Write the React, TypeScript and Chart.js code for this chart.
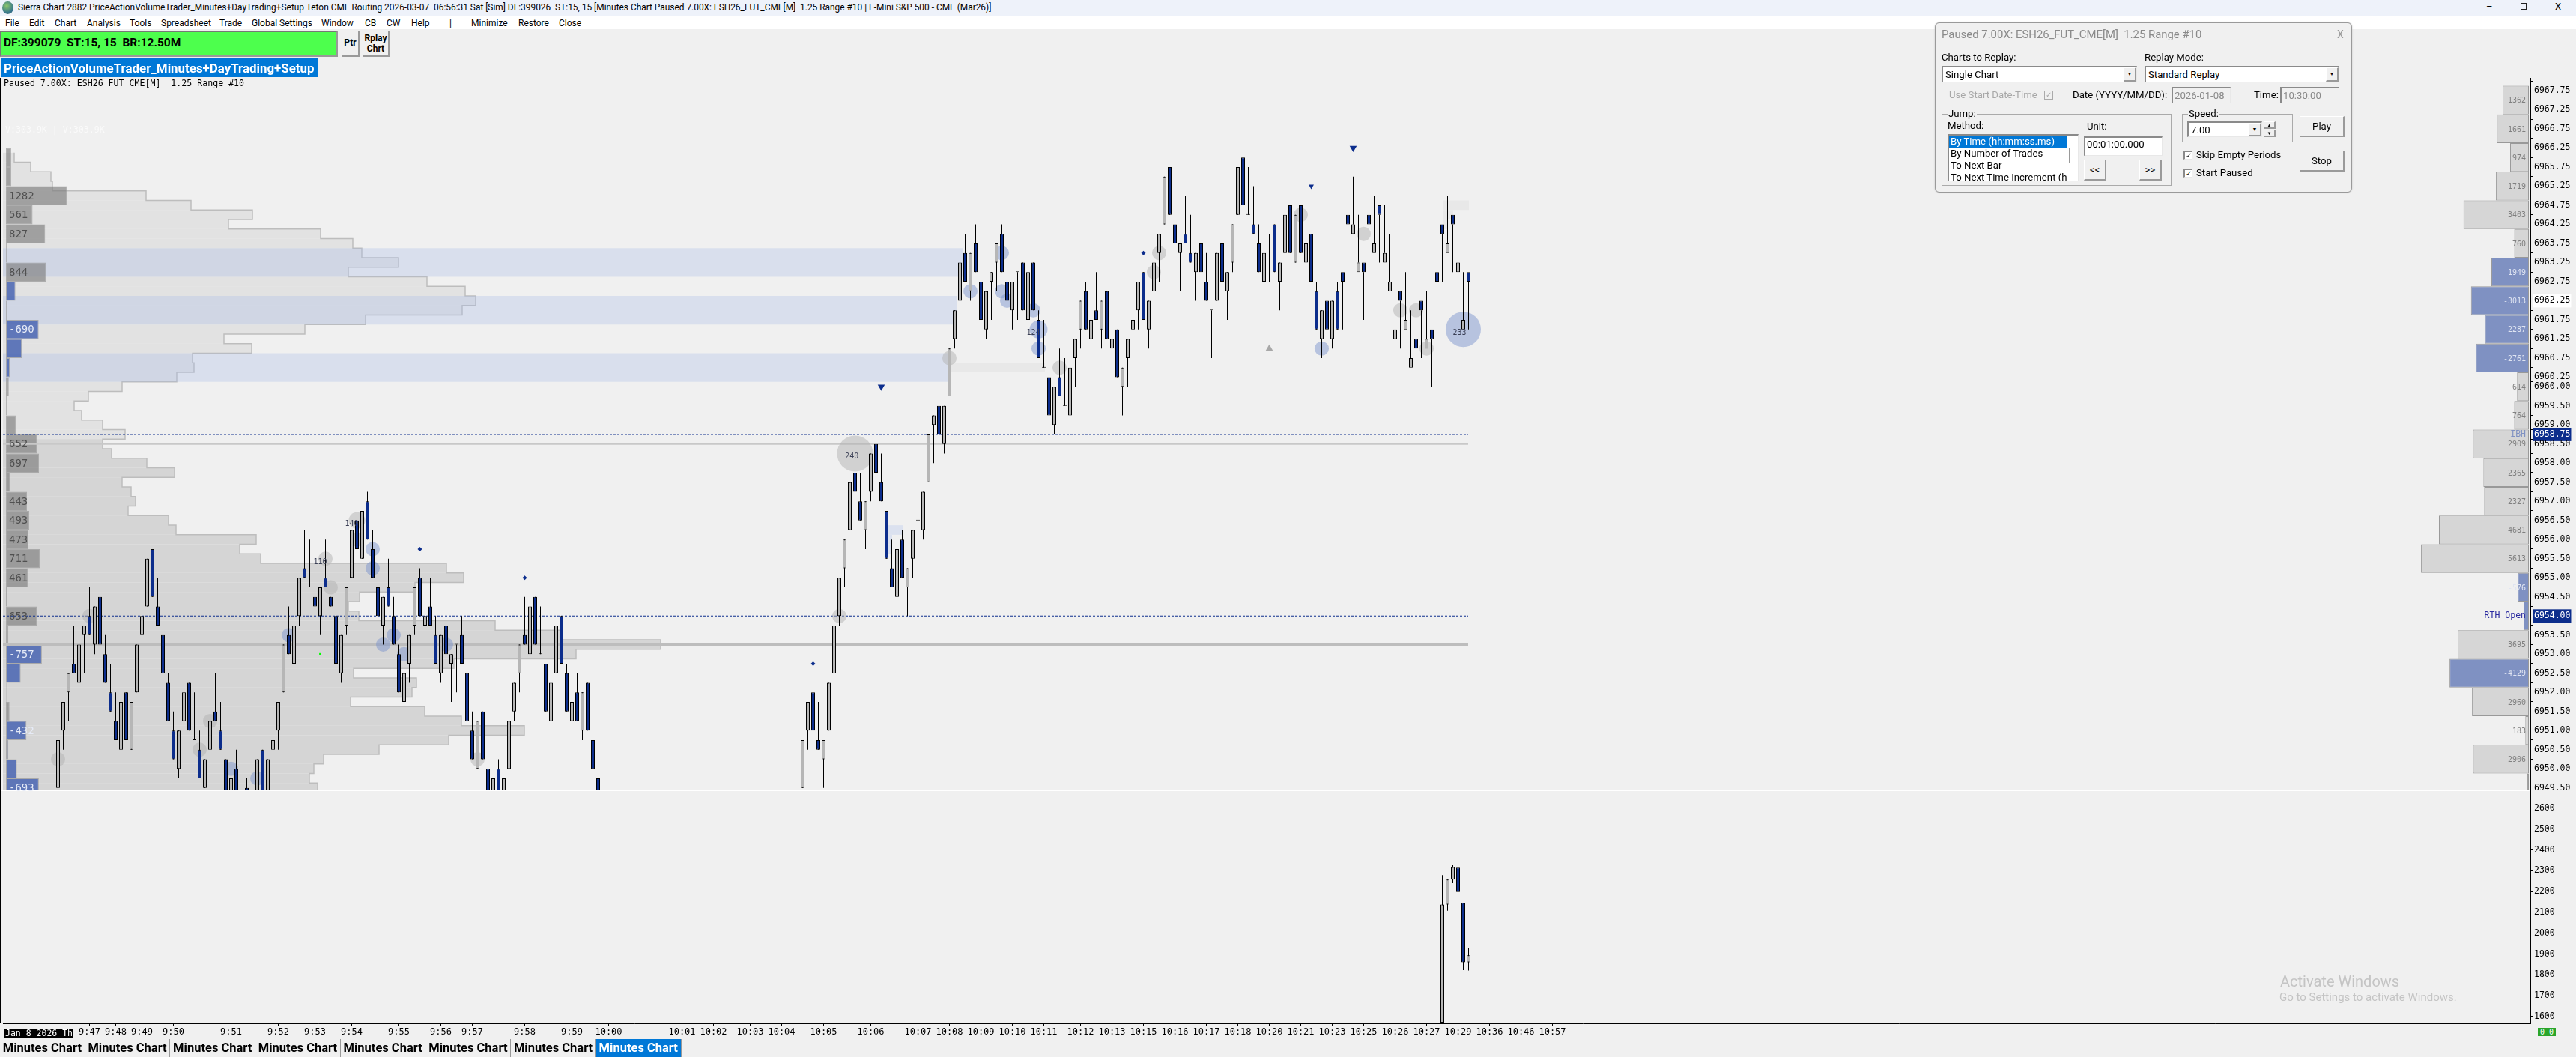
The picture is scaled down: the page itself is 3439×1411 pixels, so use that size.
import { useEffect, useRef } from 'react';
import type { CSSProperties, ReactNode } from 'react';
import { Chart, registerables } from 'chart.js';

Chart.register(...registerables);

// Candles, two runs of visible bars (the session between them is below the price pane)
const firstRunStart = 10;
const firstRunLength = 104;
const secondRunStart = 152;

const opens = [
  6949.5, 6951, 6952, 6952.75, 6952.25, 6953.5, 6954, 6953.25, 6954.5, 6953, 6952, 6951.25, 6950.5, 6952, 6950.5, 6952, 6953.5, 6954.25, 6955.75, 6954.25,
  6953.5, 6952.25, 6951, 6950, 6951.25, 6952.25, 6950.75, 6950.5, 6949.5, 6950.5, 6951.5, 6951, 6950.25, 6949, 6950, null, 6949.5, null, 6949, 6950.5,
  6949, 6950.5, 6951, 6952, 6953.5, 6952.75, 6954, 6955.25, 6954.75, 6954.5, 6954, 6955, 6954.5, 6954, 6952.5, 6953.75, 6955, 6956.5, 6955.5, 6957,
  6955.75, 6954.75, 6953.75, 6954.75, 6954, 6953, 6951.75, 6952.75, 6953.75, 6955, 6953.75, 6954.25, 6953.5, 6952.5, 6953.75, 6952.75, 6953.25, 6953.5, 6952.5, 6951,
  6950, 6951.5, 6950, 6949, 6950, 6949, 6950, 6951.5, 6952.5, 6953.5, 6953, 6954.5, 6953, 6952.75, 6951.25, 6952.5, 6954, 6952.5, 6951.25, 6952, 6951, 6952.25, 6950.75, 6949.75,
  6949.5, 6951, 6952, 6950.75, 6950.25, 6951, 6952.5, 6954, 6955.25, 6956.25, 6957.75, 6957, 6956.25, 6957.25, 6958.5, 6957.5, 6956.75, 6955.25, 6954.5, 6956,
  6954.75, 6955.5, 6956.5, 6956.25, 6957.5, 6959, 6959.5, 6958.5, 6959.75, 6961.25, 6962.25, 6963.5, 6962.5, 6963.75, 6962.75, 6961.5, 6962.75, 6963.25, 6964, 6962.75,
  6962, 6963, 6963.25, 6961.75, 6963.25, 6961.75, 6960.5, 6960.25, 6959, 6960.25, 6959.5, 6959.25, 6960.75, 6961.5, 6962.5, 6961.25, 6962, 6961.5, 6962.5, 6961,
  6961.5, 6960, 6960.75, 6961.5, 6962, 6963, 6961.5, 6962.5, 6963.5, 6964.25, 6965.75, 6964.25, 6963.5, 6964, 6963.5, 6963, 6963.75, 6962.75, 6962, 6962.25,
  6963.75, 6962.5, 6963.25, 6964.5, 6966, 6964.5, 6964.25, 6963.75, 6962.75, 6963.75, 6964.25, 6962.75, 6963.5, 6964.75, 6963.25, 6964.75, 6963.25, 6964, 6962.5, 6961.25,
  6962.25, 6961.25, 6962.5, 6963, 6964.5, 6964, 6963, 6963.25, 6964.5, 6963.5, 6964.75, 6963.25, 6962.5, 6961.25, 6962.5, 6961.5, 6960.5, 6961.25, 6962.25, 6961,
  6961.5, 6963, 6964.25, 6963.5, 6964.5, 6963, 6961.5, 6963,
];
const highs = [
  6950.75, 6951.75, 6952.5, 6953.75, 6953.25, 6953.75, 6954.75, 6954.25, 6954.5, 6953.5, 6952.75, 6952, 6951.75, 6952, 6951.75, 6953.25, 6954, 6955.5, 6955.75, 6955,
  6953.75, 6952.5, 6951.5, 6951, 6952, 6952.25, 6952, 6951, 6950.25, 6951.25, 6952.5, 6951.75, 6950.25, 6949.75, 6950.5, null, 6949.75, null, 6950.25, 6950.5,
  6950.25, 6950.75, 6951.75, 6953.25, 6954.25, 6953.75, 6955, 6956.25, 6956, 6955.5, 6954.75, 6956, 6954.5, 6954, 6953.5, 6954.75, 6956.25, 6957, 6956.75, 6957.25,
  6956.25, 6955.25, 6954.5, 6955.5, 6954.5, 6953.25, 6952.5, 6953.5, 6954.75, 6955.25, 6954, 6955, 6954, 6953.5, 6954.25, 6953, 6953.25, 6954, 6952.5, 6951.5,
  6951.25, 6951.5, 6950.5, 6949.75, 6950.25, 6949.75, 6951.25, 6952.25, 6953.25, 6954.5, 6954.25, 6954.5, 6954.25, 6952.75, 6952.25, 6953.75, 6954, 6952.75, 6951.75, 6952.5, 6952, 6952.25, 6951.25, 6949.75,
  6950.75, 6951.75, 6952.25, 6951.75, 6950.75, 6952.25, 6953.75, 6955, 6956, 6957.5, 6958.5, 6957.75, 6957, 6958.25, 6959, 6958.25, 6956.75, 6956, 6955.75, 6956.25,
  6955.25, 6956.25, 6957.75, 6957.25, 6958.75, 6959.25, 6960, 6959.5, 6961, 6962, 6963.25, 6964, 6963.5, 6964.25, 6963, 6962.5, 6963, 6963.75, 6964.25, 6963,
  6962.75, 6963, 6963.25, 6963, 6963.25, 6962, 6961.75, 6960.25, 6960, 6961, 6960.75, 6960.5, 6961.25, 6962.25, 6962.75, 6961.75, 6963, 6962.25, 6962.5, 6961.25,
  6961.5, 6960.5, 6961.25, 6961.75, 6962.75, 6963, 6962.25, 6963.25, 6964, 6965.5, 6965.75, 6965, 6963.75, 6965, 6964.5, 6963.5, 6964.25, 6963.5, 6962, 6963.5,
  6964, 6963, 6964.25, 6965.75, 6966, 6965.75, 6965.25, 6964.25, 6963.5, 6964, 6964.25, 6963.25, 6964.5, 6964.75, 6964.5, 6964.75, 6963.75, 6964, 6962.75, 6962,
  6962.75, 6962.25, 6962.75, 6962.75, 6964.25, 6965.5, 6964.5, 6963, 6964.25, 6965, 6964.5, 6964.75, 6964, 6962.75, 6962.25, 6963, 6962, 6961, 6962, 6962.5,
  6961.25, 6962.75, 6964, 6965, 6964.25, 6964.5, 6963, 6962.75, 6963,
];
const lows = [
  6949.5, 6950.5, 6951.25, 6952.5, 6952, 6952.5, 6953.5, 6953, 6953.25, 6952.25, 6951.5, 6950.75, 6950.5, 6950.75, 6950.5, 6952, 6952.75, 6954.25, 6954.5, 6953.75,
  6952.5, 6951.25, 6950.25, 6949.75, 6950.75, 6951, 6950.75, 6949.75, 6949.5, 6950, 6951.25, 6950.5, 6949, 6949, 6949, null, 6949, null, 6949, 6949,
  6949, 6949.5, 6950.5, 6952, 6953, 6952.5, 6953.75, 6955, 6954.75, 6954.25, 6953.5, 6954.75, 6954.25, 6952.75, 6952.25, 6953.5, 6955, 6955.75, 6955.5, 6956,
  6955, 6954, 6953.25, 6954.25, 6953.25, 6952, 6951.25, 6952.25, 6953.5, 6954, 6952.75, 6953.75, 6952.75, 6952.25, 6953, 6951.75, 6952, 6952.75, 6951.25, 6950.25,
  6950, 6950.25, 6949, 6949, 6949, 6949, 6950, 6951.25, 6952, 6953.25, 6953, 6953.25, 6953, 6951.5, 6951, 6952.5, 6952.75, 6951.5, 6950.5, 6951.25, 6950.75, 6951, 6950, 6949,
  6949.5, 6950.5, 6951, 6950.5, 6949.5, 6951, 6952.5, 6953.75, 6954.75, 6956.25, 6957.25, 6956.5, 6955.75, 6957, 6957.75, 6957, 6955.5, 6954.75, 6954.5, 6955,
  6954, 6955, 6956.5, 6956, 6957.5, 6958, 6958.75, 6958.25, 6959.75, 6961, 6962, 6962.75, 6962.25, 6963, 6961.75, 6961.25, 6961.75, 6962.5, 6963, 6962.25,
  6961.5, 6961.75, 6962, 6961.75, 6962, 6960.75, 6960.5, 6959.25, 6958.75, 6959.75, 6959.5, 6959.25, 6960, 6961, 6961.5, 6960.5, 6961.75, 6961, 6961.25, 6960,
  6960.25, 6959.25, 6960, 6960.5, 6961.5, 6961.75, 6961, 6962, 6962.75, 6964.25, 6964.5, 6963.75, 6962.5, 6963.75, 6963.25, 6962.25, 6963, 6962.25, 6960.75, 6962.25,
  6962.75, 6961.75, 6963, 6964.5, 6964.75, 6964.5, 6964, 6963, 6962.25, 6962.75, 6963, 6962, 6963.25, 6963.5, 6963.25, 6963.5, 6962.5, 6962.75, 6961.5, 6960.75,
  6961.5, 6961, 6961.5, 6961.5, 6963, 6964.25, 6963.25, 6961.75, 6963, 6963.75, 6963.25, 6963.5, 6962.75, 6961.5, 6961, 6961.75, 6960.75, 6959.75, 6960.75, 6961.25,
  6960, 6961.5, 6962.75, 6963.75, 6963, 6963.25, 6961.75, 6961.5, 6962.25,
];
const closes = [
  6950.75, 6951.75, 6952.5, 6952.5, 6953.25, 6953.75, 6953.5, 6954.25, 6953.25, 6952.25, 6951.5, 6950.75, 6951.75, 6950.75, 6951.75, 6953.25, 6954, 6955.5, 6954.5, 6953.75,
  6952.5, 6951.25, 6950.25, 6951, 6952, 6951, 6950.75, 6949.75, 6950.25, 6951.25, 6951.25, 6950.5, 6949, 6949.75, 6949, null, 6949, null, 6950.25, 6949,
  6950.25, 6950.75, 6951.75, 6953.25, 6953, 6953.75, 6955, 6955, 6954.75, 6954.25, 6954.75, 6954.75, 6954.25, 6952.75, 6953.5, 6954.75, 6956.25, 6955.75, 6956.75, 6956,
  6955, 6954, 6954.5, 6954.25, 6953.25, 6952, 6952.5, 6953.5, 6954.75, 6954, 6954, 6953.75, 6952.75, 6953.5, 6953, 6953, 6953.25, 6952.75, 6951.25, 6950.25,
  6951.25, 6950.25, 6949, 6949.75, 6949, 6949.75, 6951.25, 6952.25, 6953.25, 6953.25, 6954.25, 6953.25, 6953, 6951.5, 6952.25, 6953.75, 6952.75, 6951.5, 6951.75, 6951.25, 6952, 6951, 6950, 6949,
  6950.75, 6951.75, 6951, 6950.5, 6950.75, 6952.25, 6953.75, 6955, 6956, 6957.5, 6957.25, 6956.5, 6957, 6958.25, 6957.75, 6957, 6955.5, 6954.75, 6955.75, 6955,
  6955.25, 6956.25, 6956.5, 6957.25, 6958.75, 6959.25, 6958.75, 6959.5, 6961, 6962, 6963.25, 6962.75, 6963.5, 6963, 6961.75, 6962.5, 6963, 6963.75, 6963, 6962.25,
  6962.75, 6963, 6962, 6963, 6962, 6960.75, 6960.5, 6959.25, 6960, 6959.75, 6959.5, 6960.5, 6961.25, 6962.25, 6961.5, 6961.75, 6961.75, 6962.25, 6961.25, 6961.25,
  6960.25, 6960.5, 6961.25, 6961.75, 6962.75, 6961.75, 6962.25, 6963.25, 6964, 6965.5, 6964.5, 6963.75, 6963.75, 6963.75, 6963.25, 6963.5, 6963, 6962.25, 6962, 6963.5,
  6962.75, 6963, 6964.25, 6965.75, 6964.75, 6964.5, 6964, 6963, 6963.5, 6963.75, 6963, 6963.25, 6964.5, 6963.5, 6964.5, 6963.5, 6963.75, 6962.75, 6961.5, 6962,
  6961.5, 6962.25, 6961.5, 6962.75, 6964.25, 6964.25, 6963.25, 6963, 6964.25, 6963.75, 6964.5, 6963.5, 6962.75, 6961.5, 6962.25, 6961.75, 6960.75, 6961, 6962, 6961.25,
  6961.25, 6962.75, 6964, 6963.75, 6964.25, 6963.25, 6961.75, 6962.75, 6962.25,
];

// Lower study pane, last six bars only are inside its range
const lowerStart = 274;
const lowerOpens = [1571, 2138, 2257, 2315, 2146, 1861];
const lowerHighs = [2279, 2257, 2327, 2315, 2146, 1927];
const lowerLows = [1571, 2108, 2240, 2194, 1823, 1821];
const lowerCloses = [2138, 2257, 2318, 2198, 1861, 1894];

// Time axis
const timeBars = [16, 21, 26, 32, 43, 52, 59, 66, 75, 83, 89, 99, 108, 115, 129, 135, 142, 148, 156, 165, 174, 180, 186, 192, 198, 205, 211, 217, 223, 229, 235, 241, 247, 253, 259, 265, 271, 277, 283, 289, 295];
const timeLabels = ['9:47', '9:48', '9:49', '9:50', '9:51', '9:52', '9:53', '9:54', '9:55', '9:56', '9:57', '9:58', '9:59', '10:00', '10:01', '10:02', '10:03', '10:04', '10:05', '10:06', '10:07', '10:08', '10:09', '10:10', '10:11', '10:12', '10:13', '10:15', '10:16', '10:17', '10:18', '10:20', '10:21', '10:23', '10:25', '10:26', '10:27', '10:29', '10:36', '10:46', '10:57'];

// Price axis ticks
const priceTicks = [6967.75, 6967.25, 6966.75, 6966.25, 6965.75, 6965.25, 6964.75, 6964.25, 6963.75, 6963.25, 6962.75, 6962.25, 6961.75, 6961.25, 6960.75, 6960.25, 6960, 6959.5, 6959, 6958.75, 6958.5, 6958, 6957.5, 6957, 6956.5, 6956, 6955.5, 6955, 6954.5, 6954, 6953.5, 6953, 6952.5, 6952, 6951.5, 6951, 6950.5, 6950, 6949.5];
const lowerTicks = [2600, 2500, 2400, 2300, 2200, 2100, 2000, 1900, 1800, 1700, 1600];
const markedPrices = [6958.75, 6954];
const cursorPrice = 6962.25;

// Left volume profile, one row per tick
const profilePrices = [6966, 6965.75, 6965.5, 6965.25, 6965, 6964.75, 6964.5, 6964.25, 6964, 6963.75, 6963.5, 6963.25, 6963, 6962.75, 6962.5, 6962.25, 6962, 6961.75, 6961.5, 6961.25, 6961, 6960.75, 6960.5, 6960.25, 6960, 6959.75, 6959.5, 6959.25, 6959, 6958.75, 6958.5, 6958.25, 6958, 6957.75, 6957.5, 6957.25, 6957, 6956.75, 6956.5, 6956.25, 6956, 6955.75, 6955.5, 6955.25, 6955, 6954.75, 6954.5, 6954.25, 6954, 6953.75, 6953.5, 6953.25, 6953, 6952.75, 6952.5, 6952.25, 6952, 6951.75, 6951.5, 6951.25, 6951, 6950.75, 6950.5, 6950.25, 6950, 6949.75, 6949.5];
const profileVolumes = [19, 41, 68, 70, 195, 255, 337, 305, 428, 471, 483, 532, 465, 570, 621, 635, 617, 488, 407, 299, 336, 257, 259, 236, 163, 118, 99, 109, 137, 167, 137, 149, 196, 233, 163, 175, 181, 171, 225, 235, 342, 320, 348, 596, 619, 554, 480, 465, 479, 661, 751, 882, 769, 606, 472, 556, 550, 468, 567, 616, 700, 599, 506, 432, 419, 413, 424];
const sessionSplitPrice = 6958.6;

// Value-area bands behind the profile
const bandPrices = [6963.25, 6962, 6960.5];
const bandEnds = [1285, 1277, 1266];

// Small leftover profile rows
const faintGrayPrices = [6960.5, 6964.75, 6964.5, 6964.25];
const faintGrayFrom = [1268, 1927, 1927, 1927];
const faintGrayTo = [1395, 1961, 1940, 1933];
const faintBluePrices = [6956.25, 6956, 6955.75];
const faintBlueFrom = [1186, 1186, 1186];
const faintBlueTo = [1205, 1191, 1191];

// Left delta rows
const deltaPrices = [6966, 6965.5, 6965, 6964.5, 6964, 6963.5, 6963, 6962.5, 6962, 6961.5, 6961, 6960.5, 6960, 6959.5, 6959, 6958.5, 6958, 6957.5, 6957, 6956.5, 6956, 6955.5, 6955, 6954.5, 6954, 6953.5, 6953, 6952.5, 6952, 6951.5, 6951, 6950.5, 6950, 6949.5];
const deltaValues = [110, 110, 1282, 561, 827, 15, 844, -200, -15, -690, -335, -80, 60, 15, 205, 652, 697, 80, 443, 493, 473, 711, 461, 30, 653, 50, -757, -310, 10, 75, -432, -50, -230, -693];

// Right session profile
const sessionPrices = [6967.5, 6966.75, 6966, 6965.25, 6964.5, 6963.75, 6963, 6962.25, 6961.5, 6960.75, 6960, 6959.25, 6958.5, 6957.75, 6957, 6956.25, 6955.5, 6954.75, 6954, 6953.25, 6952.5, 6951.75, 6951, 6950.25, 6949.5];
const sessionValues = [1362, 1661, 974, 1719, 3403, 760, -1949, -3013, -2287, -2761, 614, 764, 2909, 2365, 2327, 4681, 5613, -576, -273, 3695, -4129, 2960, 183, 2906, 80];
const sessionUnlabeled = [6954, 6949.5];

// Level lines
const dashedLevels = [6958.75, 6954];
const solidLevels = [6958.5, 6953.25];
const levelLabels = ['IBH', 'RTH Open'];

// Volume bubbles
const grayBubbleBars = [10, 16, 39, 37, 61, 62, 67, 67, 90, 159, 162, 180, 201, 220, 219, 247, 259, 266, 269, 271];
const grayBubblePrices = [6950.25, 6954, 6951.25, 6950.5, 6955.5, 6954.75, 6956.5, 6956, 6950.25, 6954, 6958.25, 6960.75, 6960.5, 6963.5, 6963, 6964.5, 6964, 6962, 6962, 6961];
const grayBubbleSizes = [9.5, 9.5, 9.5, 9.5, 9.5, 9.5, 11, 9.5, 9.5, 9.5, 24, 9.5, 9.5, 9.5, 9.5, 9.5, 9.5, 9.5, 9.5, 9.5];
const blueBubbleBars = [43, 48, 54, 70, 70, 72, 74, 76, 84, 184, 190, 190, 191, 196, 197, 197, 251, 278];
const blueBubblePrices = [6950, 6949.75, 6953.5, 6955.75, 6955.25, 6953.25, 6953.5, 6953, 6953.25, 6962.5, 6963.5, 6962.5, 6962.25, 6962, 6961.5, 6961, 6961, 6961.5];
const blueBubbleSizes = [9.5, 9.5, 9.5, 9.5, 9.5, 9.5, 9.5, 9.5, 9.5, 9.5, 9.5, 9.5, 9.5, 9.5, 12, 9.5, 9.5, 23.5];
const bubbleTextBars = [277.3, 161.4, 196, 60, 66];
const bubbleTextPrices = [6961.4, 6958.17, 6961.4, 6955.4, 6956.4];
const bubbleTexts = ['233', '240', '124', '110', '140'];

// Signal markers
const bigDownBars = [257, 167];
const bigDownPrices = [6966.25, 6960];
const smallDownBars = [249];
const smallDownPrices = [6965.25];
const diamondBars = [217, 79, 99, 154];
const diamondPrices = [6963.5, 6955.75, 6955, 6952.75];
const upBars = [241];
const upPrices = [6961];
const greenBars = [60];
const greenPrices = [6953];

const BLUE = '#0c2d8c';
const GRAY = '#b6b6b6';
const MONO = '"DejaVu Sans Mono", monospace';
const UI = 'Roboto, sans-serif';
const DIALOG_TEXT = 13.2;
const slotCount = 482;

const slots = Array.from({ length: slotCount }, (_, k) => k);
const barSlot = (i: number) => (i < firstRunLength ? firstRunStart + i : secondRunStart + i - firstRunLength);

const candleData = (start: (i: number) => number, o: any[], h: any[], l: any[], c: any[]) => {
  const bodies: any[] = slots.map(() => null);
  const wicks: any[] = slots.map(() => null);
  const colors: string[] = slots.map(() => GRAY);
  o.forEach((open, i) => {
    if (open === null) return;
    const k = start(i);
    bodies[k] = [Math.min(open, c[i]), Math.max(open, c[i])];
    wicks[k] = [l[i], h[i]];
    colors[k] = c[i] < open ? BLUE : GRAY;
  });
  return { bodies, wicks, colors };
};

const points = (xs: number[], ys: number[]) => xs.map((x, i) => ({ x, y: ys[i] }));
const candleBase = { type: 'bar', grouped: false, inflateAmount: 0, xAxisID: 'x' };
const rowBase = { type: 'bar', indexAxis: 'y', grouped: false, inflateAmount: 0, yAxisID: 'y', borderSkipped: false };

const overlayText: any = {
  id: 'overlayText',
  beforeDatasetsDraw(chart: any) {
    const { ctx, scales } = chart;
    ctx.save();
    ctx.fillStyle = '#ffffff';
    ctx.fillRect(0, scales.y.bottom - 1, chart.width - 61, 2);
    ctx.restore();
  },
  afterDatasetsDraw(chart: any) {
    const { ctx, scales } = chart;
    const { x, y, xd, xr } = scales;
    ctx.save();
    ctx.textBaseline = 'middle';

    ctx.font = `14px ${MONO}`;
    ctx.textAlign = 'left';
    deltaValues.forEach((v, i) => {
      if (Math.abs(v) < 400 || deltaPrices[i] < y.min) return;
      ctx.fillStyle = v < 0 ? '#e6ebf7' : '#505050';
      ctx.fillText(String(v), xd.getPixelForValue(0) + 4, y.getPixelForValue(deltaPrices[i]) + 1);
    });

    ctx.font = `10px ${MONO}`;
    ctx.textAlign = 'right';
    sessionValues.forEach((v, i) => {
      if (sessionUnlabeled.includes(sessionPrices[i])) return;
      ctx.fillStyle = v < 0 ? '#dfe4f2' : '#808080';
      ctx.fillText(String(v), xr.getPixelForValue(0) - 4, y.getPixelForValue(sessionPrices[i]) + 1);
    });

    ctx.font = `11.5px ${MONO}`;
    dashedLevels.forEach((p, i) => {
      ctx.fillStyle = i === 0 ? '#7f91c2' : '#2a2aa0';
      ctx.fillText(levelLabels[i], xr.getPixelForValue(0) - 4, y.getPixelForValue(p));
    });

    ctx.font = `10px ${MONO}`;
    ctx.textAlign = 'center';
    ctx.fillStyle = '#3a3f55';
    bubbleTexts.forEach((t, i) => {
      ctx.fillText(t, x.getPixelForValue(bubbleTextBars[i]), y.getPixelForValue(bubbleTextPrices[i]));
    });
    ctx.restore();
  },
};

const PriceChart = () => {
  const canvasRef = useRef<HTMLCanvasElement | null>(null);

  useEffect(() => {
    if (!canvasRef.current) return;
    const upper = candleData(barSlot, opens, highs, lows, closes);
    const lower = candleData((i) => lowerStart + i, lowerOpens, lowerHighs, lowerLows, lowerCloses);

    const outline: { x: number; y: number }[] = [];
    profilePrices.forEach((p, i) => {
      outline.push({ x: profileVolumes[i], y: p + 0.125 }, { x: profileVolumes[i], y: p - 0.125 });
    });

    const chart = new Chart(canvasRef.current, {
      type: 'bar',
      data: {
        labels: slots,
        datasets: [
          // markers
          { type: 'line', showLine: false, xAxisID: 'x', yAxisID: 'y', data: points(bigDownBars, bigDownPrices), pointStyle: 'triangle', rotation: 180, pointRadius: 5.5, pointBackgroundColor: BLUE, pointBorderWidth: 0, order: 1 },
          { type: 'line', showLine: false, xAxisID: 'x', yAxisID: 'y', data: points(smallDownBars, smallDownPrices), pointStyle: 'triangle', rotation: 180, pointRadius: 4, pointBackgroundColor: BLUE, pointBorderWidth: 0, order: 1 },
          { type: 'line', showLine: false, xAxisID: 'x', yAxisID: 'y', data: points(diamondBars, diamondPrices), pointStyle: 'rectRot', pointRadius: 3, pointBackgroundColor: BLUE, pointBorderWidth: 0, order: 1 },
          { type: 'line', showLine: false, xAxisID: 'x', yAxisID: 'y', data: points(upBars, upPrices), pointStyle: 'triangle', pointRadius: 5.5, pointBackgroundColor: '#a8a8a8', pointBorderWidth: 0, order: 1 },
          { type: 'line', showLine: false, xAxisID: 'x', yAxisID: 'y', data: points(greenBars, greenPrices), pointStyle: 'rect', pointRadius: 2, pointBackgroundColor: '#00ff00', pointBorderWidth: 0, order: 1 },

          // candles
          { ...candleBase, yAxisID: 'y', data: upper.bodies, backgroundColor: upper.colors, borderColor: '#000', borderWidth: 1, borderSkipped: false, barThickness: 5, minBarLength: 1, order: 2 },
          { ...candleBase, yAxisID: 'y', data: upper.wicks, backgroundColor: '#000', borderWidth: 0, barThickness: 1, order: 3 },
          { ...candleBase, yAxisID: 'y2', data: lower.bodies, backgroundColor: lower.colors, borderColor: '#000', borderWidth: 1, borderSkipped: false, barThickness: 5, minBarLength: 1, order: 2 },
          { ...candleBase, yAxisID: 'y2', data: lower.wicks, backgroundColor: '#000', borderWidth: 0, barThickness: 1, order: 3 },

          // bubbles
          { type: 'bubble', xAxisID: 'x', yAxisID: 'y', data: grayBubbleBars.map((x, i) => ({ x, y: grayBubblePrices[i], r: grayBubbleSizes[i] })), backgroundColor: 'rgba(178,178,178,0.5)', borderWidth: 0, order: 4 },
          { type: 'bubble', xAxisID: 'x', yAxisID: 'y', data: blueBubbleBars.map((x, i) => ({ x, y: blueBubblePrices[i], r: blueBubbleSizes[i] })), backgroundColor: 'rgba(120,145,205,0.47)', borderWidth: 0, order: 4 },

          // level lines
          ...dashedLevels.map((p) => ({ type: 'line', xAxisID: 'xv', yAxisID: 'y', data: [{ x: 4, y: p }, { x: 1960, y: p }], borderColor: BLUE, borderWidth: 1, borderDash: [3, 2], pointRadius: 0, order: 5 })),
          ...solidLevels.map((p) => ({ type: 'line', xAxisID: 'xv', yAxisID: 'y', data: [{ x: 4, y: p }, { x: 1960, y: p }], borderColor: p === 6958.5 ? '#c8c8c8' : '#bdbdbd', borderWidth: p === 6958.5 ? 2 : 3, pointRadius: 0, order: 6 })),

          // left delta rows
          { ...rowBase, xAxisID: 'xd', data: deltaValues.map((v, i) => ({ x: Math.abs(v), y: deltaPrices[i] })), backgroundColor: deltaValues.map((v) => (v < 0 ? 'rgba(72,100,178,0.85)' : 'rgba(125,125,125,0.65)')), borderColor: 'rgba(150,150,150,0.7)', borderWidth: 1, barThickness: 25.5, order: 7 },

          // value-area bands
          { ...rowBase, xAxisID: 'xv', data: points(bandEnds, bandPrices), backgroundColor: 'rgba(167,187,233,0.3)', borderWidth: 0, barThickness: 38.25, order: 8 },

          // left profile
          { type: 'line', xAxisID: 'xv', yAxisID: 'y', data: outline, borderColor: '#bdbdbd', borderWidth: 1.5, pointRadius: 0, tension: 0, order: 9 },
          { ...rowBase, xAxisID: 'xv', data: points(profileVolumes, profilePrices), backgroundColor: profilePrices.map((p) => (p < sessionSplitPrice ? '#d5d5d5' : '#e2e2e2')), borderWidth: 0, barThickness: 12.75, order: 10 },

          // leftover rows
          { ...rowBase, xAxisID: 'xv', data: faintGrayPrices.map((y, i) => ({ x: [faintGrayFrom[i], faintGrayTo[i]], y })), backgroundColor: '#e8e8e8', borderWidth: 0, barThickness: 12.75, order: 11 },
          { ...rowBase, xAxisID: 'xv', data: faintBluePrices.map((y, i) => ({ x: [faintBlueFrom[i], faintBlueTo[i]], y })), backgroundColor: '#dbe1ef', borderWidth: 0, barThickness: 12.75, order: 11 },

          // right session profile
          { ...rowBase, xAxisID: 'xr', data: sessionValues.map((v, i) => ({ x: Math.abs(v), y: sessionPrices[i] })), backgroundColor: sessionValues.map((v) => (v < 0 ? '#7f91c2' : '#d6d6d6')), borderColor: '#999999', borderWidth: 1, barThickness: 38.25, order: 12 },
        ] as any,
      },
      options: {
        responsive: false,
        devicePixelRatio: 1,
        animation: false,
        events: [],
        layout: { autoPadding: false, padding: { left: 4, top: 104, right: 0, bottom: 0 } },
        plugins: { legend: { display: false }, tooltip: { enabled: false } },
        scales: {
          x: {
            type: 'category',
            offset: true,
            grid: { offset: false, drawOnChartArea: false, tickLength: 3, color: '#000' },
            border: { color: '#000', width: 1 },
            afterBuildTicks: (scale: any) => {
              scale.ticks = timeBars.map((value) => ({ value }));
            },
            afterFit: (scale: any) => {
              scale.height = 45;
              scale.paddingLeft = 0;
              scale.paddingRight = 0;
            },
            ticks: {
              autoSkip: false,
              maxRotation: 0,
              minRotation: 0,
              padding: 2,
              color: '#000',
              font: { family: MONO, size: 12 },
              callback: (value: any) => timeLabels[timeBars.indexOf(Number(value))],
            },
          },
          y: {
            type: 'linear',
            position: 'right',
            stack: 'panes',
            stackWeight: 951,
            weight: 1,
            offset: false,
            min: 6949.436,
            max: 6968.083,
            grid: { drawOnChartArea: false, tickLength: 3, color: '#000' },
            border: { color: '#000', width: 1 },
            afterBuildTicks: (scale: any) => {
              scale.ticks = priceTicks.map((value) => ({ value }));
            },
            afterFit: (scale: any) => {
              scale.width = 61;
              scale.paddingTop = 0;
              scale.paddingBottom = 0;
            },
            ticks: {
              autoSkip: false,
              padding: 2,
              font: { family: MONO, size: 11.5 },
              color: (ctx: any) => (markedPrices.includes(ctx.tick.value) ? '#ffffff' : '#000'),
              showLabelBackdrop: (ctx: any) => markedPrices.includes(ctx.tick.value) || ctx.tick.value === cursorPrice,
              backdropColor: (ctx: any) => (ctx.tick.value === cursorPrice ? '#ffffff' : BLUE),
              backdropPadding: { top: 2, bottom: 2, left: 1, right: 1 },
              z: 1,
              callback: (value: any) => Number(value).toFixed(2),
            },
          },
          y2: {
            type: 'linear',
            position: 'right',
            stack: 'panes',
            stackWeight: 311,
            weight: 2,
            offset: false,
            min: 1567.6,
            max: 2686.3,
            grid: { drawOnChartArea: false, tickLength: 3, color: '#000' },
            border: { color: '#000', width: 1 },
            afterBuildTicks: (scale: any) => {
              scale.ticks = lowerTicks.map((value) => ({ value }));
            },
            afterFit: (scale: any) => {
              scale.width = 61;
              scale.paddingTop = 0;
              scale.paddingBottom = 0;
            },
            ticks: { autoSkip: false, padding: 2, color: '#000', font: { family: MONO, size: 11.5 }, callback: (value: any) => String(value) },
          },
          xv: { type: 'linear', display: false, offset: false, min: 4, max: 3378 },
          xd: { type: 'linear', display: false, offset: false, min: -63, max: 53246 },
          xr: { type: 'linear', display: false, offset: false, reverse: true, min: -78, max: 131508 },
        } as any,
      },
      plugins: [overlayText],
    } as any);

    return () => {
      chart.destroy();
    };
  }, []);

  return <canvas ref={canvasRef} width={3439} height={1411} style={{ position: 'absolute', left: 0, top: 0 }} />;
};

const Label = ({ x, y, children, style }: { x: number; y: number; children: ReactNode; style?: CSSProperties }) => (
  <div style={{ position: 'absolute', left: x, top: y, transform: 'translateY(-50%)', whiteSpace: 'pre', lineHeight: 1, ...style }}>{children}</div>
);

const Box = ({ x, y, w, h, style, children }: { x: number; y: number; w: number; h: number; style?: CSSProperties; children?: ReactNode }) => (
  <div style={{ position: 'absolute', left: x, top: y, width: w, height: h, boxSizing: 'border-box', ...style }}>{children}</div>
);

const sunken: CSSProperties = { borderTop: '2px solid #8a8a8a', borderLeft: '2px solid #8a8a8a', borderRight: '1px solid #e8e8e8', borderBottom: '1px solid #e8e8e8', background: '#fff' };
const raised: CSSProperties = { background: '#f0f0f0', borderTop: '1px solid #fff', borderLeft: '1px solid #fff', borderRight: '2px solid #9a9a9a', borderBottom: '2px solid #9a9a9a' };

const Combo = ({ x, y, w, h, text }: { x: number; y: number; w: number; h: number; text: string }) => (
  <Box x={x} y={y} w={w} h={h} style={sunken}>
    <Label x={3} y={h / 2 - 1} style={{ fontSize: DIALOG_TEXT }}>{text}</Label>
    <Box x={w - 20} y={0} w={17} h={h - 3} style={{ ...raised, textAlign: 'center', fontSize: 7, lineHeight: `${h - 5}px` }}>▼</Box>
  </Box>
);

const Button = ({ x, y, w, h, text }: { x: number; y: number; w: number; h: number; text: string }) => (
  <Box x={x} y={y} w={w} h={h} style={{ ...raised, textAlign: 'center', lineHeight: `${h - 3}px`, fontSize: DIALOG_TEXT }}>{text}</Box>
);

const Check = ({ x, y, text }: { x: number; y: number; text: string }) => (
  <>
    <Box x={x} y={y - 6} w={12} h={12} style={{ ...sunken, fontSize: 10, lineHeight: '9px', textAlign: 'center' }}>✓</Box>
    <Label x={x + 17} y={y} style={{ fontSize: DIALOG_TEXT }}>{text}</Label>
  </>
);

const ReplayDialog = () => (
  <Box x={2583} y={30} w={557} h={227} style={{ background: '#f0f0f0', border: '1px solid #9a9a9a', borderRadius: 6, boxShadow: '0 0 2px #bbb', color: '#000' }} />
);

const menuItems = ['File', 'Edit', 'Chart', 'Analysis', 'Tools', 'Spreadsheet', 'Trade', 'Global Settings', 'Window', 'CB', 'CW', 'Help', '|', 'Minimize', 'Restore', 'Close'];
const menuOffsets = [7, 39, 73, 116, 173, 215, 293, 336, 429, 487, 516, 549, 600, 629, 692, 746];
const listItems = ['By Time (hh:mm:ss.ms)', 'By Number of Trades', 'To Next Bar', 'To Next Time Increment (h'];

const App = () => {
  useEffect(() => {
    document.body.style.margin = '0';
  }, []);

  return (
    <div style={{ position: 'relative', width: 3439, height: 1411, background: '#f0f0f0', overflow: 'hidden', fontFamily: UI, color: '#000' }}>
      <PriceChart />

      {/* window frame */}
      <Box x={0} y={0} w={3439} h={21} style={{ background: '#eef2fa' }} />
      <Box x={3} y={2} w={15} h={17} style={{ borderRadius: '50%', background: 'radial-gradient(circle at 40% 35%, #8fc86a, #2f6f8f 70%, #b8a040)' }} />
      <Label x={24} y={10.5} style={{ fontSize: 11.9 }}>{'Sierra Chart 2882 PriceActionVolumeTrader_Minutes+DayTrading+Setup Teton CME Routing 2026-03-07  06:56:31 Sat [Sim] DF:399026  ST:15, 15 [Minutes Chart Paused 7.00X: ESH26_FUT_CME[M]  1.25 Range #10 | E-Mini S&P 500 - CME (Mar26)]'}</Label>
      <Label x={3319} y={8} style={{ fontSize: 13 }}>–</Label>
      <Box x={3365} y={4} w={8} h={9} style={{ border: '1px solid #222' }} />
      <Label x={3411} y={8} style={{ fontSize: 13 }}>X</Label>
      <Box x={0} y={21} w={3439} h={18} style={{ background: '#fff' }} />
      {menuItems.map((item, i) => (
        <Label key={i} x={menuOffsets[i]} y={31} style={{ fontSize: 12 }}>{item}</Label>
      ))}

      {/* chart status */}
      <Box x={0} y={41} w={451} h={35} style={{ background: '#4dff4d', borderTop: '2px solid #777', borderLeft: '1px solid #777', borderBottom: '2px solid #999', borderRight: '2px solid #999' }} />
      <Label x={5} y={58} style={{ fontSize: 15.5, fontWeight: 700 }}>{'DF:399079  ST:15, 15  BR:12.50M'}</Label>
      <Box x={456} y={41} w={24} h={35} style={{ ...raised, textAlign: 'center', lineHeight: '31px', fontSize: 12, fontWeight: 700 }}>Ptr</Box>
      <Box x={484} y={41} w={36} h={35} style={{ ...raised, textAlign: 'center', lineHeight: '14px', paddingTop: 2, fontSize: 12, fontWeight: 700 }}>Rplay<br />Chrt</Box>
      <Box x={1} y={78} w={423} h={25} style={{ background: '#0078d7' }} />
      <Label x={5} y={91} style={{ fontSize: 16.9, fontWeight: 700, color: '#fff' }}>PriceActionVolumeTrader_Minutes+DayTrading+Setup</Label>
      <Label x={5} y={112} style={{ fontSize: 11.6, fontFamily: MONO }}>{'Paused 7.00X: ESH26_FUT_CME[M]  1.25 Range #10'}</Label>
      <Label x={7} y={174} style={{ fontSize: 11.6, fontFamily: MONO, color: '#fafafa' }}>{'V:303.9K | V:303.9K'}</Label>
      <Box x={0} y={104} w={1} h={1262} style={{ background: '#000' }} />

      {/* replay dialog */}
      <ReplayDialog />
      <Label x={2592} y={46} style={{ fontSize: 14.9, color: '#8a8a8a' }}>{'Paused 7.00X: ESH26_FUT_CME[M]  1.25 Range #10'}</Label>
      <Label x={3120} y={46} style={{ fontSize: 14, color: '#9a9a9a' }}>X</Label>
      <Label x={2592} y={77} style={{ fontSize: DIALOG_TEXT }}>Charts to Replay:</Label>
      <Label x={2863} y={77} style={{ fontSize: DIALOG_TEXT }}>Replay Mode:</Label>
      <Combo x={2592} y={88} w={261} h={22} text="Single Chart" />
      <Combo x={2863} y={88} w={260} h={22} text="Standard Replay" />
      <Label x={2602} y={127} style={{ fontSize: DIALOG_TEXT, color: '#a8a8a8' }}>Use Start Date-Time</Label>
      <Box x={2729} y={121} w={12} h={12} style={{ border: '1px solid #aaa', color: '#aaa', fontSize: 10, lineHeight: '10px', textAlign: 'center' }}>✓</Box>
      <Label x={2767} y={127} style={{ fontSize: DIALOG_TEXT }}>Date (YYYY/MM/DD):</Label>
      <Box x={2899} y={116} w={79} h={22} style={{ ...sunken, background: '#f0f0f0' }}>
        <Label x={2} y={10} style={{ fontSize: DIALOG_TEXT, color: '#8a8a8a' }}>2026-01-08</Label>
      </Box>
      <Label x={3009} y={127} style={{ fontSize: DIALOG_TEXT }}>Time:</Label>
      <Box x={3044} y={116} w={79} h={22} style={{ ...sunken, background: '#f0f0f0' }}>
        <Label x={2} y={10} style={{ fontSize: DIALOG_TEXT, color: '#8a8a8a' }}>10:30:00</Label>
      </Box>
      <Box x={2592} y={152} w={307} h={96} style={{ border: '1px solid #aaa' }} />
      <Label x={2600} y={152} style={{ fontSize: DIALOG_TEXT, background: '#f0f0f0', padding: '0 1px' }}>Jump:</Label>
      <Label x={2600} y={168} style={{ fontSize: DIALOG_TEXT }}>Method:</Label>
      <Label x={2786} y={169} style={{ fontSize: DIALOG_TEXT }}>Unit:</Label>
      <Box x={2600} y={179} w={175} h={63} style={{ ...sunken, overflow: 'hidden' }}>
        {listItems.map((item, i) => (
          <div key={i} style={{ height: 16, lineHeight: '16px', fontSize: DIALOG_TEXT, paddingLeft: 2, width: 155, whiteSpace: 'nowrap', overflow: 'hidden', background: i === 0 ? '#0078d7' : 'transparent', color: i === 0 ? '#fff' : '#000' }}>{item}</div>
        ))}
        <Box x={160} y={16} w={2} h={20} style={{ background: '#999' }} />
      </Box>
      <Box x={2782} y={182} w={105} h={26} style={sunken}>
        <Label x={2} y={9} style={{ fontSize: DIALOG_TEXT }}>00:01:00.000</Label>
      </Box>
      <Button x={2782} y={213} w={30} h={28} text="<<" />
      <Button x={2856} y={213} w={30} h={28} text=">>" />
      <Box x={2913} y={152} w={148} h={38} style={{ border: '1px solid #aaa' }} />
      <Label x={2921} y={152} style={{ fontSize: DIALOG_TEXT, background: '#f0f0f0', padding: '0 1px' }}>Speed:</Label>
      <Combo x={2920} y={162} w={100} h={21} text="7.00" />
      <Box x={3022} y={162} w={16} h={10} style={{ ...raised, fontSize: 6, textAlign: 'center', lineHeight: '7px' }}>▲</Box>
      <Box x={3022} y={173} w={16} h={10} style={{ ...raised, fontSize: 6, textAlign: 'center', lineHeight: '7px' }}>▼</Box>
      <Button x={3070} y={155} w={60} h={28} text="Play" />
      <Button x={3070} y={201} w={60} h={28} text="Stop" />
      <Check x={2915} y={207} text="Skip Empty Periods" />
      <Check x={2915} y={231} text="Start Paused" />

      {/* bottom strip */}
      <Box x={5} y={1374} w={93} h={12} style={{ background: '#000' }}>
        <Label x={2} y={6} style={{ fontSize: 11.5, fontFamily: MONO, color: '#fff' }}>Jan 8 2026 Th</Label>
      </Box>
      {Array.from({ length: 8 }, (_, i) => (
        <Box key={i} x={i * 113.7} y={1387} w={113.7} h={24} style={{ borderRight: '1px solid #999', background: i === 7 ? '#0078d7' : 'transparent', color: i === 7 ? '#fff' : '#000', fontWeight: 700, fontSize: 16.5, textAlign: 'center', lineHeight: '23px', whiteSpace: 'nowrap', overflow: 'hidden' }}>Minutes Chart</Box>
      ))}
      <Box x={3388} y={1372} w={24} h={11} style={{ background: '#2aa52a', color: '#fff', fontSize: 10, fontFamily: MONO, textAlign: 'center', lineHeight: '11px' }}>0 0</Box>
      <Label x={3044} y={1310} style={{ fontSize: 20, color: '#c4c4c4' }}>Activate Windows</Label>
      <Label x={3043} y={1331} style={{ fontSize: 15, color: '#c4c4c4' }}>Go to Settings to activate Windows.</Label>
    </div>
  );
};

export default App;
